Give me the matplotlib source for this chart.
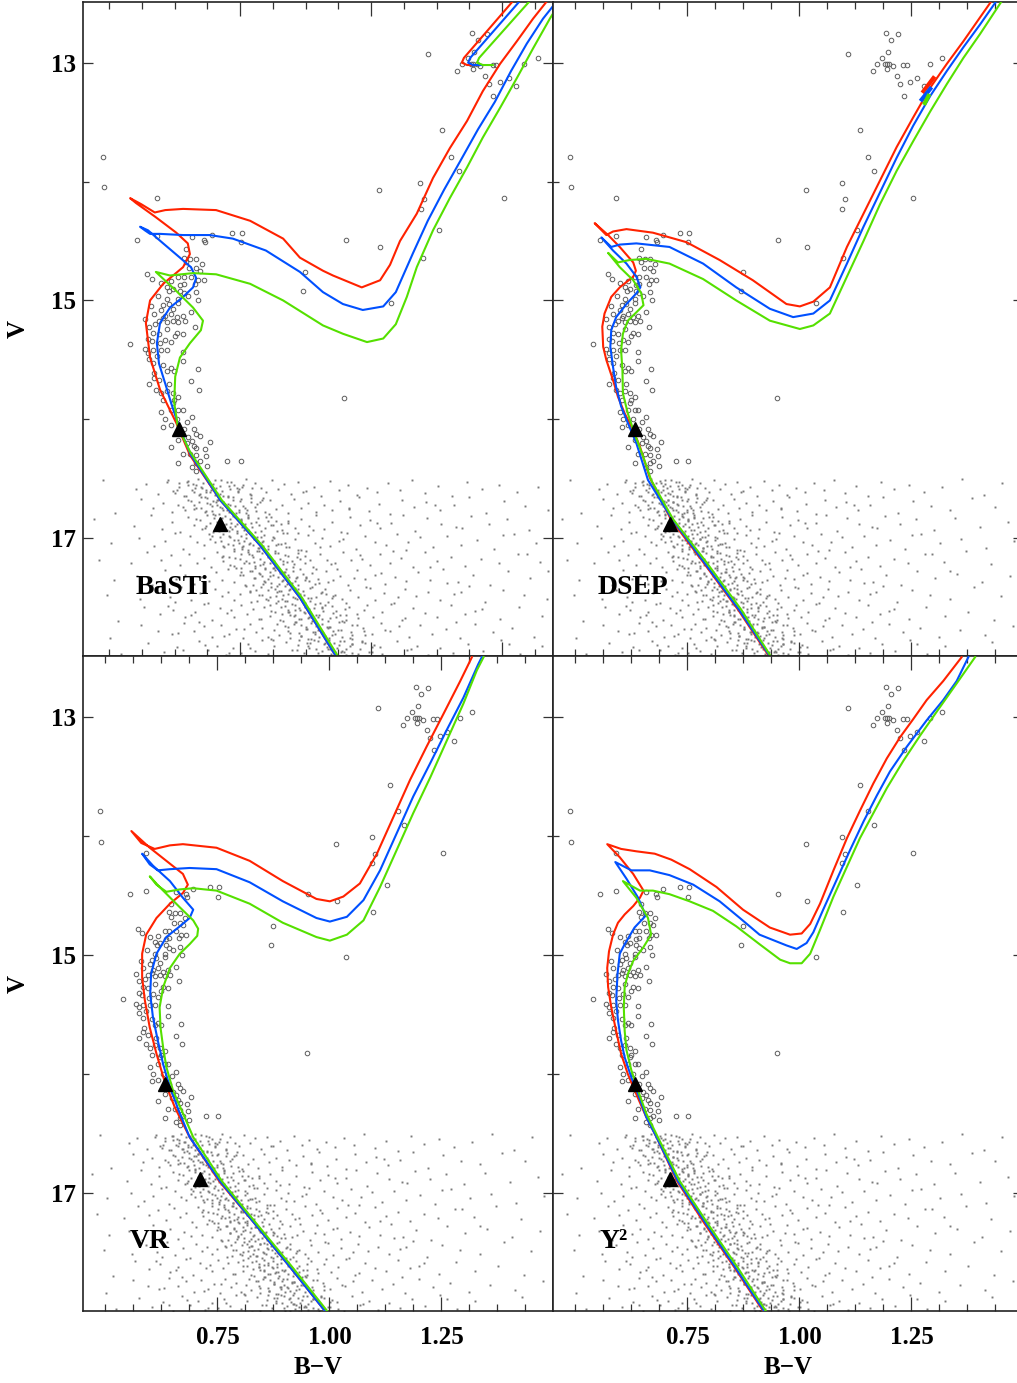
import matplotlib
matplotlib.use('Agg')
import matplotlib.pyplot as plt
from matplotlib.ticker import FixedLocator

plt.rcParams['font.family'] = ['Liberation Serif', 'DejaVu Serif']
plt.rcParams['font.weight'] = 'bold'

# ---------------------------------------------------------------- data
# cluster stars brighter than V=16.5 (open circles), same in all panels
cluster_stars = [
    (0.491, 14.05), (0.591, 14.14), (1.015, 14.07), (0.554, 14.49), (0.591, 14.46),
    (0.658, 14.47), (0.681, 14.49), (0.682, 14.51), (0.696, 14.45), (0.734, 14.43),
    (0.754, 14.43), (0.751, 14.51), (0.952, 14.49), (1.017, 14.55), (0.647, 14.57),
    (0.642, 14.64), (0.655, 14.65), (0.666, 14.65), (0.647, 14.68), (0.677, 14.69),
    (0.666, 14.73), (0.652, 14.73), (0.673, 14.75), (0.573, 14.78), (0.582, 14.82),
    (0.599, 14.85), (0.617, 14.84), (0.632, 14.80), (0.643, 14.80), (0.657, 14.80),
    (0.669, 14.83), (0.681, 14.83), (0.873, 14.76), (0.870, 14.92), (0.610, 14.89),
    (0.615, 14.92), (0.621, 14.90), (0.636, 14.87), (0.643, 14.86), (0.636, 14.92),
    (0.664, 14.86), (0.666, 14.93), (0.632, 14.99), (0.643, 14.94), (0.610, 14.99),
    (0.593, 14.96), (0.614, 15.03), (0.603, 15.04), (0.621, 15.07), (0.632, 15.02),
    (0.651, 14.96), (0.670, 15.00), (0.580, 15.05), (0.585, 15.11), (0.599, 15.08),
    (0.606, 15.13), (0.617, 15.11), (0.629, 15.14), (0.640, 15.13), (0.657, 15.10),
    (0.569, 15.16), (0.576, 15.22), (0.588, 15.20), (0.595, 15.17), (0.603, 15.15),
    (0.610, 15.18), (0.621, 15.17), (0.632, 15.18), (0.645, 15.17), (0.584, 15.27),
    (0.595, 15.28), (0.610, 15.24), (0.629, 15.27), (0.640, 15.28), (0.625, 15.30),
    (0.664, 15.22), (0.575, 15.32), (0.582, 15.34), (0.597, 15.36), (0.606, 15.33),
    (0.617, 15.35), (0.539, 15.37), (0.569, 15.41), (0.575, 15.44), (0.584, 15.42),
    (0.599, 15.42), (0.611, 15.42), (0.591, 15.47), (0.640, 15.43), (0.576, 15.49),
    (0.584, 15.53), (0.603, 15.54), (0.640, 15.51), (0.610, 15.59), (0.617, 15.57),
    (0.623, 15.59), (0.669, 15.58), (0.586, 15.61), (0.585, 15.65), (0.596, 15.67),
    (0.614, 15.70), (0.576, 15.70), (0.657, 15.68), (0.671, 15.75), (0.590, 15.75),
    (0.599, 15.78), (0.610, 15.76), (0.621, 15.78), (0.623, 15.84), (0.632, 15.81),
    (0.603, 15.84), (0.621, 15.86), (0.632, 15.92), (0.640, 15.92), (0.617, 15.92),
    (0.599, 15.94), (0.606, 16.00), (0.629, 16.00), (0.649, 16.02), (0.658, 15.98),
    (0.949, 15.82), (0.603, 16.06), (0.617, 16.05), (0.643, 16.08), (0.662, 16.08),
    (0.666, 16.12), (0.651, 16.15), (0.673, 16.14), (0.632, 16.17), (0.658, 16.18),
    (0.617, 16.23), (0.649, 16.20), (0.661, 16.22), (0.692, 16.19), (0.666, 16.24),
    (0.682, 16.25), (0.640, 16.29), (0.655, 16.29), (0.666, 16.30), (0.684, 16.31),
    (0.632, 16.37), (0.666, 16.37), (0.673, 16.35), (0.687, 16.39), (0.725, 16.35),
    (0.751, 16.35), (0.658, 16.40), (0.666, 16.43),
    (1.193, 12.75), (1.221, 12.76), (1.204, 12.81), (1.109, 12.93), (1.197, 12.91),
    (1.184, 12.96), (1.174, 13.01), (1.190, 13.01), (1.195, 13.01), (1.201, 13.01),
    (1.208, 13.03), (1.195, 13.05), (1.164, 13.07), (1.232, 13.02), (1.239, 13.02),
    (1.292, 13.01), (1.319, 12.96), (1.217, 13.11), (1.263, 13.13), (1.246, 13.16),
    (1.225, 13.18), (1.277, 13.20), (1.233, 13.28), (1.136, 13.57), (1.153, 13.79),
    (1.167, 13.91), (1.094, 14.01), (1.101, 14.15), (1.095, 14.23), (1.254, 14.14),
    (1.129, 14.41), (1.098, 14.64), (1.037, 15.02), (0.488, 13.79),
]

# faint field stars (small dots), V > 16.5
field_bv = [
    0.488, 0.552, 0.571, 0.593, 0.611, 0.622, 0.633, 0.642, 0.650, 0.658,
    0.665, 0.672, 0.678, 0.684, 0.690, 0.695, 0.701, 0.706, 0.712, 0.718,
    0.724, 0.731, 0.738, 0.745, 0.753, 0.761, 0.770, 0.779, 0.789, 0.799,
    0.810, 0.822, 0.834, 0.847, 0.861, 0.875, 0.890, 0.905, 0.921, 0.938,
    0.955, 0.973, 0.992, 1.012, 1.033, 1.055, 1.078, 1.102, 1.127, 1.154,
    1.182, 1.212, 1.244, 1.279, 1.318, 1.362, 1.411, 1.452, 0.744, 0.869,
    0.512, 0.561, 0.584, 0.603, 0.619, 0.632, 0.645, 0.656, 0.666, 0.675,
    0.684, 0.692, 0.699, 0.706, 0.712, 0.718, 0.724, 0.730, 0.736, 0.742,
    0.749, 0.756, 0.763, 0.771, 0.779, 0.788, 0.797, 0.807, 0.818, 0.829,
    0.841, 0.853, 0.866, 0.880, 0.894, 0.909, 0.925, 0.941, 0.958, 0.976,
    0.995, 1.015, 1.036, 1.058, 1.081, 1.105, 1.131, 1.158, 1.187, 1.219,
    1.254, 1.293, 1.337, 1.386, 1.437, 0.703, 0.748, 0.792, 0.958, 1.121,
    0.471, 0.548, 0.579, 0.601, 0.620, 0.636, 0.650, 0.662, 0.673, 0.683,
    0.692, 0.701, 0.709, 0.716, 0.723, 0.730, 0.737, 0.744, 0.751, 0.758,
    0.765, 0.773, 0.781, 0.790, 0.799, 0.809, 0.819, 0.830, 0.842, 0.854,
    0.867, 0.881, 0.895, 0.910, 0.926, 0.943, 0.960, 0.978, 0.997, 1.017,
    1.038, 1.060, 1.083, 1.107, 1.133, 1.161, 1.191, 1.224, 1.260, 1.301,
    1.348, 1.402, 1.466, 0.728, 0.765, 0.812, 0.842, 0.889, 1.012, 1.173,
    0.503, 0.557, 0.586, 0.607, 0.625, 0.641, 0.655, 0.668, 0.680, 0.691,
    0.701, 0.711, 0.720, 0.729, 0.737, 0.745, 0.753, 0.761, 0.769, 0.777,
    0.785, 0.794, 0.803, 0.812, 0.822, 0.832, 0.843, 0.855, 0.867, 0.880,
    0.893, 0.907, 0.922, 0.938, 0.954, 0.971, 0.989, 1.008, 1.028, 1.049,
    1.071, 1.094, 1.118, 1.144, 1.172, 1.202, 1.235, 1.272, 1.314, 1.361,
    1.417, 1.478, 0.756, 0.789, 0.828, 0.861, 0.902, 0.947, 1.067, 1.251,
    0.481, 0.541, 0.573, 0.598, 0.618, 0.636, 0.652, 0.667, 0.681, 0.694,
    0.706, 0.718, 0.729, 0.739, 0.749, 0.758, 0.767, 0.776, 0.785, 0.794,
    0.803, 0.812, 0.822, 0.832, 0.842, 0.853, 0.864, 0.876, 0.889, 0.902,
    0.916, 0.931, 0.946, 0.962, 0.979, 0.997, 1.016, 1.036, 1.057, 1.079,
    1.102, 1.126, 1.152, 1.180, 1.210, 1.243, 1.280, 1.322, 1.371, 1.428,
    0.715, 0.779, 0.817, 0.848, 0.873, 0.924, 0.983, 1.041, 1.113, 1.297,
    0.509, 0.553, 0.582, 0.606, 0.627, 0.645, 0.661, 0.676, 0.690, 0.703,
    0.715, 0.727, 0.738, 0.749, 0.759, 0.769, 0.779, 0.788, 0.797, 0.806,
    0.815, 0.824, 0.834, 0.844, 0.854, 0.865, 0.876, 0.888, 0.900, 0.913,
    0.927, 0.941, 0.956, 0.972, 0.989, 1.007, 1.026, 1.046, 1.067, 1.089,
    1.113, 1.138, 1.165, 1.194, 1.226, 1.262, 1.303, 1.351, 1.408, 1.471,
    0.742, 0.793, 0.836, 0.859, 0.882, 0.934, 0.968, 1.018, 1.144, 1.337,
    0.496, 0.559, 0.591, 0.616, 0.637, 0.656, 0.673, 0.688, 0.702, 0.715,
    0.727, 0.739, 0.750, 0.761, 0.771, 0.781, 0.791, 0.800, 0.809, 0.818,
    0.827, 0.836, 0.845, 0.854, 0.864, 0.874, 0.884, 0.895, 0.906, 0.918,
    0.931, 0.945, 0.959, 0.974, 0.990, 1.007, 1.025, 1.044, 1.064, 1.085,
    1.108, 1.132, 1.158, 1.186, 1.217, 1.252, 1.291, 1.336, 1.389, 1.451,
    0.768, 0.822, 0.861, 0.879, 0.913, 0.952, 0.997, 1.052, 1.171, 0.626,
    0.517, 0.566, 0.597, 0.622, 0.644, 0.663, 0.680, 0.696, 0.711, 0.725,
    0.738, 0.751, 0.763, 0.774, 0.785, 0.796, 0.806, 0.816, 0.826, 0.836,
    0.845, 0.854, 0.863, 0.872, 0.881, 0.891, 0.901, 0.911, 0.922, 0.933,
    0.945, 0.958, 0.972, 0.987, 1.003, 1.020, 1.038, 1.058, 1.079, 1.102,
    1.126, 1.152, 1.180, 1.211, 1.245, 1.283, 1.326, 1.376, 1.434, 0.613,
    0.657, 0.733, 0.789, 0.842, 0.886, 0.907, 0.941, 0.992, 1.065, 1.199,
    0.502, 0.561, 0.594, 0.620, 0.642, 0.662, 0.680, 0.697, 0.713, 0.728,
    0.742, 0.755, 0.768, 0.780, 0.792, 0.803, 0.814, 0.825, 0.836, 0.846,
    0.856, 0.866, 0.876, 0.886, 0.896, 0.906, 0.916, 0.926, 0.937, 0.948,
    0.960, 0.973, 0.987, 1.002, 1.018, 1.035, 1.053, 1.073, 1.094, 1.117,
    1.142, 1.169, 1.199, 1.232, 1.269, 1.311, 1.359, 1.415, 1.476, 0.631,
    0.671, 0.719, 0.758, 0.809, 0.852, 0.893, 0.921, 0.964, 1.027, 1.161,
    0.523, 0.574, 0.604, 0.629, 0.651, 0.671, 0.689, 0.706, 0.722, 0.737,
    0.751, 0.765, 0.778, 0.791, 0.803, 0.815, 0.827, 0.838, 0.849, 0.860,
    0.871, 0.881, 0.891, 0.901, 0.911, 0.921, 0.931, 0.941, 0.952, 0.963,
    0.975, 0.988, 1.002, 1.017, 1.033, 1.050, 1.068, 1.088, 1.109, 1.132,
    1.157, 1.184, 1.214, 1.247, 1.284, 1.326, 1.374, 1.429, 0.641, 0.683,
    0.728, 0.769, 0.812, 0.846, 0.877, 0.918, 0.948, 0.982, 1.076, 1.263,
]
field_v = [
    16.512, 16.583, 16.541, 16.627, 16.529, 16.604, 16.566, 16.641, 16.518, 16.592,
    16.555, 16.633, 16.574, 16.611, 16.536, 16.598, 16.507, 16.620, 16.560, 16.646,
    16.524, 16.587, 16.549, 16.615, 16.571, 16.503, 16.638, 16.533, 16.579, 16.608,
    16.512, 16.583, 16.541, 16.627, 16.529, 16.604, 16.566, 16.641, 16.518, 16.592,
    16.555, 16.633, 16.574, 16.611, 16.536, 16.598, 16.507, 16.620, 16.560, 16.646,
    16.524, 16.587, 16.549, 16.615, 16.571, 16.503, 16.638, 16.533, 16.579, 16.608,
    16.791, 16.668, 16.742, 16.705, 16.783, 16.724, 16.761, 16.686, 16.748, 16.657,
    16.770, 16.710, 16.796, 16.674, 16.737, 16.699, 16.765, 16.721, 16.653, 16.788,
    16.683, 16.729, 16.758, 16.662, 16.733, 16.691, 16.777, 16.679, 16.754, 16.716,
    16.791, 16.668, 16.742, 16.705, 16.783, 16.724, 16.761, 16.686, 16.748, 16.657,
    16.770, 16.710, 16.796, 16.674, 16.737, 16.699, 16.765, 16.721, 16.653, 16.788,
    16.683, 16.729, 16.758, 16.662, 16.733, 16.691, 16.777, 16.679, 16.754, 16.716,
    16.836, 16.898, 16.807, 16.920, 16.860, 16.946, 16.824, 16.887, 16.849, 16.915,
    16.871, 16.803, 16.938, 16.833, 16.879, 16.908, 16.812, 16.883, 16.841, 16.927,
    16.829, 16.904, 16.866, 16.941, 16.818, 16.892, 16.855, 16.933, 16.874, 16.911,
    16.836, 16.898, 16.807, 16.920, 16.860, 16.946, 16.824, 16.887, 16.849, 16.915,
    16.871, 16.803, 16.938, 16.833, 16.879, 16.908, 16.812, 16.883, 16.841, 16.927,
    16.829, 16.904, 16.866, 16.941, 16.818, 16.892, 16.855, 16.933, 16.874, 16.911,
    17.037, 16.999, 17.065, 17.021, 16.953, 17.088, 16.983, 17.029, 17.058, 16.962,
    17.033, 16.991, 17.077, 16.979, 17.054, 17.016, 17.091, 16.968, 17.042, 17.005,
    17.083, 17.024, 17.061, 16.986, 17.048, 16.957, 17.070, 17.010, 17.096, 16.974,
    17.037, 16.999, 17.065, 17.021, 16.953, 17.088, 16.983, 17.029, 17.058, 16.962,
    17.033, 16.991, 17.077, 16.979, 17.054, 17.016, 17.091, 16.968, 17.042, 17.005,
    17.083, 17.024, 17.061, 16.986, 17.048, 16.957, 17.070, 17.010, 17.096, 16.974,
    17.179, 17.208, 17.112, 17.183, 17.141, 17.227, 17.129, 17.204, 17.166, 17.241,
    17.118, 17.192, 17.155, 17.233, 17.174, 17.211, 17.136, 17.198, 17.107, 17.220,
    17.160, 17.246, 17.124, 17.187, 17.149, 17.215, 17.171, 17.103, 17.238, 17.133,
    17.179, 17.208, 17.112, 17.183, 17.141, 17.227, 17.129, 17.204, 17.166, 17.241,
    17.118, 17.192, 17.155, 17.233, 17.174, 17.211, 17.136, 17.198, 17.107, 17.220,
    17.160, 17.246, 17.124, 17.187, 17.149, 17.215, 17.171, 17.103, 17.238, 17.133,
    17.354, 17.316, 17.391, 17.268, 17.342, 17.305, 17.383, 17.324, 17.361, 17.286,
    17.348, 17.257, 17.370, 17.310, 17.396, 17.274, 17.337, 17.299, 17.365, 17.321,
    17.253, 17.388, 17.283, 17.329, 17.358, 17.262, 17.333, 17.291, 17.377, 17.279,
    17.354, 17.316, 17.391, 17.268, 17.342, 17.305, 17.383, 17.324, 17.361, 17.286,
    17.348, 17.257, 17.370, 17.310, 17.396, 17.274, 17.337, 17.299, 17.365, 17.321,
    17.253, 17.388, 17.283, 17.329, 17.358, 17.262, 17.333, 17.291, 17.377, 17.279,
    17.474, 17.511, 17.436, 17.498, 17.407, 17.520, 17.460, 17.546, 17.424, 17.487,
    17.449, 17.515, 17.471, 17.403, 17.538, 17.433, 17.479, 17.508, 17.412, 17.483,
    17.441, 17.527, 17.429, 17.504, 17.466, 17.541, 17.418, 17.492, 17.455, 17.533,
    17.474, 17.511, 17.436, 17.498, 17.407, 17.520, 17.460, 17.546, 17.424, 17.487,
    17.449, 17.515, 17.471, 17.403, 17.538, 17.433, 17.479, 17.508, 17.412, 17.483,
    17.441, 17.527, 17.429, 17.504, 17.466, 17.541, 17.418, 17.492, 17.455, 17.533,
    17.696, 17.574, 17.637, 17.599, 17.665, 17.621, 17.553, 17.688, 17.583, 17.629,
    17.658, 17.562, 17.633, 17.591, 17.677, 17.579, 17.654, 17.616, 17.691, 17.568,
    17.642, 17.605, 17.683, 17.624, 17.661, 17.586, 17.648, 17.557, 17.670, 17.610,
    17.696, 17.574, 17.637, 17.599, 17.665, 17.621, 17.553, 17.688, 17.583, 17.629,
    17.658, 17.562, 17.633, 17.591, 17.677, 17.579, 17.654, 17.616, 17.691, 17.568,
    17.642, 17.605, 17.683, 17.624, 17.661, 17.586, 17.648, 17.557, 17.670, 17.610,
    17.838, 17.733, 17.779, 17.808, 17.712, 17.783, 17.741, 17.827, 17.729, 17.804,
    17.766, 17.841, 17.718, 17.792, 17.755, 17.833, 17.774, 17.811, 17.736, 17.798,
    17.707, 17.820, 17.760, 17.846, 17.724, 17.787, 17.749, 17.815, 17.771, 17.703,
    17.838, 17.733, 17.779, 17.808, 17.712, 17.783, 17.741, 17.827, 17.729, 17.804,
    17.766, 17.841, 17.718, 17.792, 17.755, 17.833, 17.774, 17.811, 17.736, 17.798,
    17.707, 17.820, 17.760, 17.846, 17.724, 17.787, 17.749, 17.815, 17.771, 17.703,
    17.977, 17.879, 17.954, 17.916, 17.991, 17.868, 17.942, 17.905, 17.983, 17.924,
    17.961, 17.886, 17.948, 17.857, 17.970, 17.910, 17.996, 17.874, 17.937, 17.899,
    17.965, 17.921, 17.853, 17.988, 17.883, 17.929, 17.958, 17.862, 17.933, 17.891,
    17.977, 17.879, 17.954, 17.916, 17.991, 17.868, 17.942, 17.905, 17.983, 17.924,
    17.961, 17.886, 17.948, 17.857, 17.970, 17.910, 17.996, 17.874, 17.937, 17.899,
    17.965, 17.921, 17.853, 17.988, 17.883, 17.929, 17.958, 17.862, 17.933, 17.891,
]

# dense main-sequence band (small dots), V > 16.5
band_bv = [
    0.613, 0.634, 0.648, 0.660, 0.669, 0.679, 0.688, 0.699, 0.713, 0.732, 0.756,
    0.629, 0.650, 0.664, 0.676, 0.685, 0.695, 0.704, 0.715, 0.729, 0.748, 0.772,
    0.626, 0.647, 0.661, 0.673, 0.682, 0.692, 0.701, 0.712, 0.726, 0.745, 0.769,
    0.651, 0.672, 0.686, 0.698, 0.707, 0.717, 0.726, 0.737, 0.751, 0.770, 0.794,
    0.640, 0.661, 0.675, 0.687, 0.696, 0.706, 0.715, 0.726, 0.740, 0.759, 0.783,
    0.662, 0.683, 0.697, 0.709, 0.718, 0.728, 0.737, 0.748, 0.762, 0.781, 0.805,
    0.665, 0.686, 0.700, 0.712, 0.721, 0.731, 0.740, 0.751, 0.765, 0.784, 0.808,
    0.685, 0.706, 0.720, 0.732, 0.741, 0.751, 0.760, 0.771, 0.785, 0.804, 0.828,
    0.678, 0.699, 0.713, 0.725, 0.734, 0.744, 0.753, 0.764, 0.778, 0.797, 0.821,
    0.696, 0.717, 0.731, 0.743, 0.752, 0.762, 0.771, 0.782, 0.796, 0.815, 0.839,
    0.692, 0.713, 0.727, 0.739, 0.748, 0.758, 0.767, 0.778, 0.792, 0.811, 0.835,
    0.718, 0.739, 0.753, 0.765, 0.774, 0.784, 0.793, 0.804, 0.818, 0.837, 0.861,
    0.717, 0.738, 0.752, 0.764, 0.773, 0.783, 0.792, 0.803, 0.817, 0.836, 0.860,
    0.740, 0.761, 0.775, 0.787, 0.796, 0.806, 0.815, 0.826, 0.840, 0.859, 0.883,
    0.731, 0.752, 0.766, 0.778, 0.787, 0.797, 0.806, 0.817, 0.831, 0.850, 0.874,
    0.751, 0.772, 0.786, 0.798, 0.807, 0.817, 0.826, 0.837, 0.851, 0.870, 0.894,
    0.756, 0.777, 0.791, 0.803, 0.812, 0.822, 0.831, 0.842, 0.856, 0.875, 0.899,
    0.774, 0.795, 0.809, 0.821, 0.830, 0.840, 0.849, 0.860, 0.874, 0.893, 0.917,
    0.769, 0.790, 0.804, 0.816, 0.825, 0.835, 0.844, 0.855, 0.869, 0.888, 0.912,
    0.785, 0.806, 0.820, 0.832, 0.841, 0.851, 0.860, 0.871, 0.885, 0.904, 0.928,
    0.783, 0.804, 0.818, 0.830, 0.839, 0.849, 0.858, 0.869, 0.883, 0.902, 0.926,
    0.807, 0.828, 0.842, 0.854, 0.863, 0.873, 0.882, 0.893, 0.907, 0.926, 0.950,
    0.808, 0.829, 0.843, 0.855, 0.864, 0.874, 0.883, 0.894, 0.908, 0.927, 0.951,
    0.832, 0.853, 0.867, 0.879, 0.888, 0.898, 0.907, 0.918, 0.932, 0.951, 0.975,
    0.820, 0.841, 0.855, 0.867, 0.876, 0.886, 0.895, 0.906, 0.920, 0.939, 0.963,
    0.842, 0.863, 0.877, 0.889, 0.898, 0.908, 0.917, 0.928, 0.942, 0.961, 0.985,
    0.845, 0.866, 0.880, 0.892, 0.901, 0.911, 0.920, 0.931, 0.945, 0.964, 0.988,
    0.863, 0.884, 0.898, 0.910, 0.919, 0.929, 0.938, 0.949, 0.963, 0.982, 1.006,
    0.859, 0.880, 0.894, 0.906, 0.915, 0.925, 0.934, 0.945, 0.959, 0.978, 1.002,
    0.877, 0.898, 0.912, 0.924, 0.933, 0.943, 0.952, 0.963, 0.977, 0.996, 1.020,
]
band_v = [
    16.511, 16.537, 16.524, 16.546, 16.505, 16.531, 16.518, 16.542, 16.508, 16.527, 16.549,
    16.596, 16.555, 16.581, 16.568, 16.592, 16.558, 16.577, 16.599, 16.561, 16.587, 16.574,
    16.618, 16.642, 16.608, 16.627, 16.649, 16.611, 16.637, 16.624, 16.646, 16.605, 16.631,
    16.677, 16.699, 16.661, 16.687, 16.674, 16.696, 16.655, 16.681, 16.668, 16.692, 16.658,
    16.737, 16.724, 16.746, 16.705, 16.731, 16.718, 16.742, 16.708, 16.727, 16.749, 16.711,
    16.755, 16.781, 16.768, 16.792, 16.758, 16.777, 16.799, 16.761, 16.787, 16.774, 16.796,
    16.842, 16.808, 16.827, 16.849, 16.811, 16.837, 16.824, 16.846, 16.805, 16.831, 16.818,
    16.899, 16.861, 16.887, 16.874, 16.896, 16.855, 16.881, 16.868, 16.892, 16.858, 16.877,
    16.924, 16.946, 16.905, 16.931, 16.918, 16.942, 16.908, 16.927, 16.949, 16.911, 16.937,
    16.981, 16.968, 16.992, 16.958, 16.977, 16.999, 16.961, 16.987, 16.974, 16.996, 16.955,
    17.008, 17.027, 17.049, 17.011, 17.037, 17.024, 17.046, 17.005, 17.031, 17.018, 17.042,
    17.061, 17.087, 17.074, 17.096, 17.055, 17.081, 17.068, 17.092, 17.058, 17.077, 17.099,
    17.146, 17.105, 17.131, 17.118, 17.142, 17.108, 17.127, 17.149, 17.111, 17.137, 17.124,
    17.168, 17.192, 17.158, 17.177, 17.199, 17.161, 17.187, 17.174, 17.196, 17.155, 17.181,
    17.227, 17.249, 17.211, 17.237, 17.224, 17.246, 17.205, 17.231, 17.218, 17.242, 17.208,
    17.287, 17.274, 17.296, 17.255, 17.281, 17.268, 17.292, 17.258, 17.277, 17.299, 17.261,
    17.305, 17.331, 17.318, 17.342, 17.308, 17.327, 17.349, 17.311, 17.337, 17.324, 17.346,
    17.392, 17.358, 17.377, 17.399, 17.361, 17.387, 17.374, 17.396, 17.355, 17.381, 17.368,
    17.449, 17.411, 17.437, 17.424, 17.446, 17.405, 17.431, 17.418, 17.442, 17.408, 17.427,
    17.474, 17.496, 17.455, 17.481, 17.468, 17.492, 17.458, 17.477, 17.499, 17.461, 17.487,
    17.531, 17.518, 17.542, 17.508, 17.527, 17.549, 17.511, 17.537, 17.524, 17.546, 17.505,
    17.558, 17.577, 17.599, 17.561, 17.587, 17.574, 17.596, 17.555, 17.581, 17.568, 17.592,
    17.611, 17.637, 17.624, 17.646, 17.605, 17.631, 17.618, 17.642, 17.608, 17.627, 17.649,
    17.696, 17.655, 17.681, 17.668, 17.692, 17.658, 17.677, 17.699, 17.661, 17.687, 17.674,
    17.718, 17.742, 17.708, 17.727, 17.749, 17.711, 17.737, 17.724, 17.746, 17.705, 17.731,
    17.777, 17.799, 17.761, 17.787, 17.774, 17.796, 17.755, 17.781, 17.768, 17.792, 17.758,
    17.837, 17.824, 17.846, 17.805, 17.831, 17.818, 17.842, 17.808, 17.827, 17.849, 17.811,
    17.855, 17.881, 17.868, 17.892, 17.858, 17.877, 17.899, 17.861, 17.887, 17.874, 17.896,
    17.942, 17.908, 17.927, 17.949, 17.911, 17.937, 17.924, 17.946, 17.905, 17.931, 17.918,
    17.999, 17.961, 17.987, 17.974, 17.996, 17.955, 17.981, 17.968, 17.992, 17.958, 17.977,
]

# triangles marked on the main sequence
marker_bv = [0.633, 0.711]
marker_v = [16.08, 16.88]

# --- isochrones: BaSTi
basti_red_bv = [0.931, 0.864, 0.788, 0.712, 0.654, 0.628, 0.597, 0.578, 0.570, 0.578,
                0.603, 0.641, 0.654, 0.650, 0.628, 0.589, 0.551, 0.540, 0.561, 0.587,
                0.607, 0.641, 0.704, 0.769, 0.832, 0.864, 0.908, 0.927, 0.982, 1.017,
                1.036, 1.055, 1.087, 1.118, 1.150, 1.183, 1.213, 1.246, 1.278, 1.309, 1.336]
basti_red_v = [17.98, 17.50, 17.06, 16.68, 16.30, 16.03, 15.75, 15.48, 15.19, 15.00,
               14.86, 14.72, 14.61, 14.52, 14.43, 14.30, 14.18, 14.14, 14.19, 14.26,
               14.24, 14.23, 14.24, 14.33, 14.48, 14.64, 14.75, 14.79, 14.89, 14.83,
               14.70, 14.50, 14.27, 13.97, 13.72, 13.49, 13.24, 13.01, 12.82, 12.63, 12.48]
basti_blue_bv = [0.931, 0.864, 0.788, 0.712, 0.656, 0.633, 0.618, 0.607, 0.595, 0.591,
                 0.597, 0.616, 0.641, 0.660, 0.666, 0.656, 0.635, 0.603, 0.574, 0.559,
                 0.568, 0.578, 0.597, 0.641, 0.692, 0.736, 0.799, 0.864, 0.908, 0.946,
                 0.984, 1.023, 1.047, 1.065, 1.080, 1.108, 1.139, 1.171, 1.204, 1.236,
                 1.267, 1.297, 1.328, 1.355]
basti_blue_v = [17.98, 17.50, 17.06, 16.68, 16.30, 16.06, 15.86, 15.70, 15.53, 15.36,
                15.19, 15.06, 14.97, 14.89, 14.81, 14.72, 14.64, 14.52, 14.41, 14.38,
                14.41, 14.44, 14.44, 14.45, 14.45, 14.48, 14.58, 14.76, 14.93, 15.03,
                15.08, 15.05, 14.93, 14.75, 14.60, 14.33, 14.07, 13.82, 13.56, 13.33,
                13.07, 12.84, 12.63, 12.48]
basti_green_bv = [0.935, 0.868, 0.792, 0.715, 0.654, 0.631, 0.624, 0.626, 0.635, 0.654,
                  0.675, 0.679, 0.660, 0.628, 0.589, 0.616, 0.660, 0.704, 0.769, 0.832,
                  0.908, 0.946, 0.992, 1.023, 1.047, 1.068, 1.087, 1.118, 1.150, 1.183,
                  1.213, 1.246, 1.278, 1.309, 1.341, 1.362]
basti_green_v = [17.98, 17.50, 17.06, 16.68, 16.27, 16.06, 15.86, 15.64, 15.48, 15.36,
                 15.25, 15.17, 15.06, 14.92, 14.76, 14.79, 14.77, 14.78, 14.86, 15.00,
                 15.21, 15.28, 15.35, 15.32, 15.20, 14.97, 14.72, 14.41, 14.14, 13.88,
                 13.63, 13.38, 13.13, 12.88, 12.63, 12.48]
# BaSTi horizontal-branch / AGB tracks
basti_hb_v = [12.48, 12.96, 13.00, 13.02, 13.02]
basti_hb_red_bv = [1.271, 1.177, 1.173, 1.183, 1.204]
basti_hb_blue_bv = [1.284, 1.189, 1.185, 1.194, 1.213]
basti_hb_green_bv = [1.303, 1.206, 1.202, 1.213, 1.232]

# --- isochrones: DSEP
dsep_red_bv = [0.930, 0.863, 0.785, 0.713, 0.666, 0.644, 0.625, 0.610, 0.595, 0.584,
               0.569, 0.562, 0.560, 0.565, 0.580, 0.599, 0.629, 0.635, 0.629, 0.599,
               0.573, 0.543, 0.569, 0.584, 0.614, 0.673, 0.748, 0.822, 0.896, 0.971,
               1.001, 1.031, 1.068, 1.106, 1.143, 1.180, 1.217, 1.254, 1.292, 1.329,
               1.366, 1.403, 1.429]
dsep_red_v = [17.98, 17.60, 17.20, 16.84, 16.49, 16.23, 16.06, 15.95, 15.81, 15.67,
              15.50, 15.39, 15.22, 15.11, 14.97, 14.89, 14.80, 14.75, 14.68, 14.55,
              14.45, 14.35, 14.45, 14.42, 14.40, 14.43, 14.51, 14.66, 14.83, 15.03,
              15.05, 15.01, 14.89, 14.55, 14.27, 13.99, 13.71, 13.46, 13.21, 13.01,
              12.82, 12.62, 12.48]
dsep_blue_bv = [0.932, 0.865, 0.787, 0.716, 0.662, 0.636, 0.617, 0.602, 0.591, 0.584,
                0.578, 0.580, 0.591, 0.614, 0.636, 0.645, 0.636, 0.614, 0.584, 0.558,
                0.580, 0.599, 0.636, 0.710, 0.785, 0.859, 0.934, 0.986, 1.031, 1.068,
                1.106, 1.143, 1.180, 1.217, 1.254, 1.292, 1.329, 1.366, 1.403, 1.440]
dsep_blue_v = [17.98, 17.60, 17.20, 16.84, 16.51, 16.20, 16.03, 15.89, 15.73, 15.56,
               15.39, 15.25, 15.14, 15.03, 14.94, 14.89, 14.80, 14.69, 14.58, 14.47,
               14.55, 14.53, 14.52, 14.55, 14.69, 14.89, 15.07, 15.14, 15.11, 15.00,
               14.69, 14.38, 14.09, 13.80, 13.53, 13.28, 13.07, 12.87, 12.68, 12.48]
dsep_green_bv = [0.934, 0.870, 0.792, 0.718, 0.669, 0.651, 0.632, 0.617, 0.606, 0.605,
                 0.602, 0.606, 0.617, 0.636, 0.652, 0.647, 0.629, 0.599, 0.573, 0.595,
                 0.621, 0.658, 0.710, 0.785, 0.859, 0.934, 1.001, 1.031, 1.068, 1.106,
                 1.143, 1.180, 1.217, 1.254, 1.292, 1.329, 1.366, 1.403, 1.452]
dsep_green_v = [17.98, 17.60, 17.20, 16.84, 16.51, 16.31, 16.12, 15.95, 15.78, 15.59,
                15.42, 15.28, 15.17, 15.10, 15.04, 14.94, 14.83, 14.72, 14.60, 14.68,
                14.66, 14.65, 14.69, 14.82, 15.00, 15.17, 15.24, 15.21, 15.11, 14.80,
                14.50, 14.19, 13.91, 13.66, 13.41, 13.18, 12.96, 12.76, 12.48]
# DSEP short red-clump segments
dsep_hb_red = ([1.277, 1.299], [13.24, 13.13])
dsep_hb_blue = ([1.273, 1.292], [13.31, 13.22])
dsep_hb_green = ([1.280, 1.288], [13.34, 13.28])

# --- isochrones: VR
vr_red_bv = [0.990, 0.914, 0.834, 0.754, 0.688, 0.655, 0.632, 0.614, 0.599, 0.588,
             0.582, 0.582, 0.591, 0.614, 0.644, 0.673, 0.684, 0.673, 0.636, 0.599,
             0.558, 0.580, 0.610, 0.644, 0.673, 0.748, 0.822, 0.896, 0.971, 1.001,
             1.031, 1.068, 1.106, 1.143, 1.180, 1.217, 1.254, 1.292, 1.318]
vr_red_v = [17.99, 17.63, 17.26, 16.90, 16.53, 16.28, 16.06, 15.83, 15.61, 15.38,
            15.19, 14.99, 14.83, 14.69, 14.57, 14.48, 14.41, 14.32, 14.21, 14.10,
            13.96, 14.06, 14.11, 14.08, 14.07, 14.10, 14.21, 14.38, 14.53, 14.55,
            14.51, 14.40, 14.15, 13.84, 13.53, 13.25, 12.98, 12.70, 12.50]
vr_blue_bv = [0.990, 0.914, 0.834, 0.756, 0.688, 0.666, 0.644, 0.629, 0.617, 0.606,
              0.600, 0.602, 0.614, 0.636, 0.666, 0.688, 0.696, 0.673, 0.644, 0.606,
              0.582, 0.599, 0.617, 0.644, 0.688, 0.748, 0.822, 0.896, 0.971, 1.001,
              1.039, 1.076, 1.113, 1.150, 1.187, 1.225, 1.262, 1.299, 1.332, 1.340]
vr_blue_v = [17.99, 17.63, 17.26, 16.90, 16.53, 16.33, 16.11, 15.92, 15.72, 15.52,
             15.33, 15.16, 14.99, 14.85, 14.76, 14.69, 14.62, 14.52, 14.38, 14.25,
             14.15, 14.24, 14.29, 14.28, 14.27, 14.28, 14.39, 14.55, 14.69, 14.72,
             14.68, 14.54, 14.29, 13.98, 13.67, 13.39, 13.11, 12.84, 12.56, 12.50]
vr_green_bv = [0.995, 0.919, 0.838, 0.760, 0.696, 0.673, 0.651, 0.636, 0.629, 0.623,
               0.621, 0.629, 0.644, 0.666, 0.688, 0.705, 0.707, 0.696, 0.666, 0.621,
               0.599, 0.614, 0.636, 0.666, 0.696, 0.748, 0.822, 0.896, 0.971, 1.001,
               1.039, 1.076, 1.113, 1.150, 1.187, 1.225, 1.262, 1.299, 1.329, 1.344]
vr_green_v = [17.99, 17.63, 17.26, 16.90, 16.53, 16.33, 16.14, 15.94, 15.78, 15.61,
              15.44, 15.27, 15.11, 14.99, 14.91, 14.84, 14.78, 14.71, 14.60, 14.43,
              14.34, 14.41, 14.47, 14.45, 14.44, 14.46, 14.57, 14.73, 14.85, 14.88,
              14.83, 14.71, 14.43, 14.12, 13.81, 13.51, 13.20, 12.89, 12.61, 12.50]

# --- isochrones: Y2
y2_red_bv = [0.919, 0.856, 0.789, 0.727, 0.681, 0.658, 0.636, 0.617, 0.602, 0.591,
             0.580, 0.573, 0.571, 0.575, 0.584, 0.595, 0.610, 0.629, 0.644, 0.652,
             0.629, 0.599, 0.571, 0.602, 0.636, 0.677, 0.714, 0.755, 0.815, 0.874,
             0.934, 0.979, 1.005, 1.024, 1.046, 1.076, 1.106, 1.135, 1.165, 1.195,
             1.225, 1.254, 1.284, 1.321, 1.362]
y2_red_v = [17.99, 17.63, 17.26, 16.90, 16.53, 16.36, 16.17, 16.00, 15.83, 15.64,
            15.44, 15.27, 15.11, 14.97, 14.83, 14.73, 14.66, 14.59, 14.52, 14.46,
            14.32, 14.18, 14.07, 14.11, 14.13, 14.15, 14.20, 14.28, 14.43, 14.62,
            14.77, 14.83, 14.82, 14.74, 14.57, 14.29, 14.02, 13.79, 13.56, 13.35,
            13.17, 13.02, 12.86, 12.70, 12.50]
y2_blue_bv = [0.921, 0.858, 0.792, 0.729, 0.681, 0.658, 0.640, 0.625, 0.610, 0.602,
              0.595, 0.591, 0.594, 0.599, 0.610, 0.632, 0.657, 0.640, 0.614, 0.589,
              0.625, 0.666, 0.710, 0.763, 0.822, 0.867, 0.911, 0.971, 0.994, 1.016,
              1.031, 1.053, 1.083, 1.113, 1.143, 1.173, 1.202, 1.240, 1.284, 1.321,
              1.351, 1.377]
y2_blue_v = [17.99, 17.63, 17.26, 16.90, 16.53, 16.36, 16.17, 16.03, 15.86, 15.72,
             15.55, 15.38, 15.16, 14.99, 14.91, 14.77, 14.67, 14.52, 14.36, 14.22,
             14.29, 14.29, 14.33, 14.41, 14.55, 14.69, 14.83, 14.92, 14.95, 14.90,
             14.81, 14.62, 14.37, 14.12, 13.88, 13.66, 13.46, 13.25, 13.03, 12.86,
             12.70, 12.50]
y2_green_bv = [0.925, 0.863, 0.796, 0.733, 0.684, 0.658, 0.640, 0.625, 0.614, 0.610,
               0.608, 0.610, 0.617, 0.629, 0.651, 0.669, 0.662, 0.636, 0.606, 0.644,
               0.673, 0.710, 0.755, 0.807, 0.859, 0.911, 0.957, 0.979, 1.005, 1.024,
               1.046, 1.076, 1.106, 1.135, 1.165, 1.195, 1.232, 1.269, 1.306, 1.351,
               1.392]
y2_green_v = [17.99, 17.63, 17.26, 16.90, 16.53, 16.33, 16.14, 15.97, 15.80, 15.64,
              15.44, 15.27, 15.16, 15.05, 14.94, 14.83, 14.69, 14.52, 14.38, 14.46,
              14.46, 14.49, 14.55, 14.63, 14.76, 14.91, 15.04, 15.07, 15.07, 14.99,
              14.79, 14.51, 14.26, 14.02, 13.81, 13.60, 13.37, 13.16, 12.96, 12.72,
              12.50]

RED, BLUE, GREEN = '#ff2200', '#0050ff', '#55e000'

# ---------------------------------------------------------------- figure
W, H = 1017, 1383
fig = plt.figure(figsize=(W / 100, H / 100), dpi=100)


def px_rect(x0, y0, x1, y1):
    return [x0 / W, 1 - y1 / H, (x1 - x0) / W, (y1 - y0) / H]


panels = [
    dict(name='BaSTi', rect=px_rect(83, 2, 553, 656), xlim=(0.45, 1.347),
         iso=[(basti_red_bv, basti_red_v, RED), (basti_blue_bv, basti_blue_v, BLUE),
              (basti_green_bv, basti_green_v, GREEN)],
         extra=[(basti_hb_red_bv, basti_hb_v, RED, 1.5), (basti_hb_blue_bv, basti_hb_v, BLUE, 1.5),
                (basti_hb_green_bv, basti_hb_v, GREEN, 1.5)],
         left=True, bottom=False, label_x=0.551),
    dict(name='DSEP', rect=px_rect(553, 2, 1023, 656), xlim=(0.45, 1.499),
         iso=[(dsep_red_bv, dsep_red_v, RED), (dsep_blue_bv, dsep_blue_v, BLUE),
              (dsep_green_bv, dsep_green_v, GREEN)],
         extra=[(dsep_hb_red[0], dsep_hb_red[1], RED, 3.0), (dsep_hb_blue[0], dsep_hb_blue[1], BLUE, 3.0),
                (dsep_hb_green[0], dsep_hb_green[1], GREEN, 3.0)],
         left=False, bottom=False, label_x=0.550),
    dict(name='VR', rect=px_rect(83, 656, 553, 1311), xlim=(0.45, 1.499),
         iso=[(vr_red_bv, vr_red_v, RED), (vr_blue_bv, vr_blue_v, BLUE),
              (vr_green_bv, vr_green_v, GREEN)],
         extra=[], left=True, bottom=True, label_x=0.555),
    dict(name='Y²', rect=px_rect(553, 656, 1023, 1311), xlim=(0.45, 1.499),
         iso=[(y2_red_bv, y2_red_v, RED), (y2_blue_bv, y2_blue_v, BLUE),
              (y2_green_bv, y2_green_v, GREEN)],
         extra=[], left=False, bottom=True, label_x=0.553),
]

star_bv = [s[0] for s in cluster_stars]
star_v = [s[1] for s in cluster_stars]

for p in panels:
    ax = fig.add_axes(p['rect'])
    ax.set_xlim(*p['xlim'])
    ax.set_ylim(17.99, 12.49)

    ax.plot(field_bv, field_v, 's', ms=1.4, mew=0, color='#7a7a7a', zorder=1)
    ax.plot(band_bv, band_v, 's', ms=1.4, mew=0, color='#7a7a7a', zorder=1)
    ax.plot(star_bv, star_v, 'o', ms=3.3, mfc='none', mec='#5c5c5c', mew=0.7, zorder=2)
    for xs, vs, c in p['iso']:
        ax.plot(xs, vs, color=c, lw=1.5, zorder=3)
    for xs, vs, c, lw in p['extra']:
        ax.plot(xs, vs, color=c, lw=lw, zorder=3)
    ax.plot(marker_bv, marker_v, '^', ms=10, color='black', zorder=4)

    ax.text(p['label_x'], 17.41, p['name'], fontsize=20, fontweight='bold',
            ha='left', va='center', zorder=5)

    ax.xaxis.set_major_locator(FixedLocator([0.75, 1.00, 1.25]))
    ax.xaxis.set_minor_locator(FixedLocator([0.4375, 0.5, 0.5625, 0.625, 0.6875, 0.8125, 0.875,
                                             0.9375, 1.0625, 1.125, 1.1875, 1.3125, 1.375,
                                             1.4375, 1.5]))
    ax.yaxis.set_major_locator(FixedLocator([13, 15, 17]))
    ax.yaxis.set_minor_locator(FixedLocator([14, 16]))
    ax.set_xticklabels(['0.75', '1.00', '1.25'])
    ax.set_yticklabels(['13', '15', '17'])

    ax.tick_params(which='both', direction='in', top=True, right=True,
                   color='#333333', width=0.9, labelsize=18)
    ax.tick_params(axis='x', which='major', length=10, pad=11)
    ax.tick_params(axis='x', which='minor', length=5)
    ax.tick_params(axis='y', which='major', length=7.5, pad=5)
    ax.tick_params(axis='y', which='minor', length=4)
    ax.tick_params(labelbottom=p['bottom'], labelleft=p['left'])
    for lab in ax.get_xticklabels() + ax.get_yticklabels():
        lab.set_fontweight('bold')
    for sp in ax.spines.values():
        sp.set_linewidth(1.2)
        sp.set_color('#222222')

fig.text(18 / W, 1 - 329 / H, 'V', rotation=90, fontsize=18, fontweight='bold',
         ha='center', va='center')
fig.text(18 / W, 1 - 984 / H, 'V', rotation=90, fontsize=18, fontweight='bold',
         ha='center', va='center')
fig.text(318 / W, 1 - 1367 / H, 'B\u2212V', fontsize=18, fontweight='bold',
         ha='center', va='center')
fig.text(788 / W, 1 - 1367 / H, 'B\u2212V', fontsize=18, fontweight='bold',
         ha='center', va='center')

fig.savefig('out.png', dpi=100)
